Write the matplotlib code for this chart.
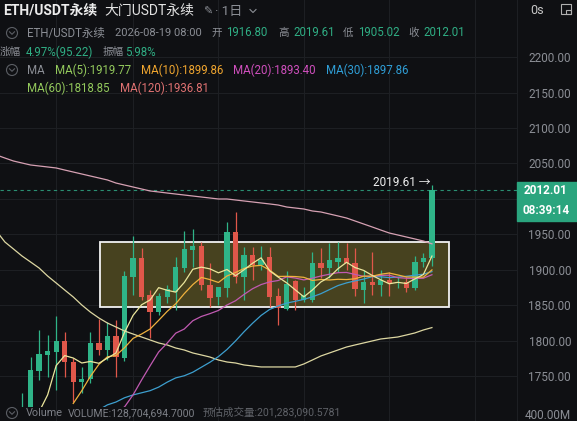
import numpy as np
import pandas as pd
import matplotlib
matplotlib.use("Agg")
from matplotlib import pyplot as plt
from matplotlib.patches import Rectangle, Circle
from matplotlib.lines import Line2D

plt.rcParams['font.family'] = ['Roboto', 'Noto Sans CJK SC', 'DejaVu Sans']

# daily candles, index 0 = leftmost visible one
opens = [1680, 1700, 1757.7, 1780, 1784.5, 1800, 1770, 1742, 1746, 1797,
         1787, 1807, 1776, 1890, 1917, 1865, 1841, 1862, 1869, 1903,
         1928, 1934, 1879, 1862, 1875, 1953.5, 1890, 1921, 1907, 1918,
         1863, 1845, 1884, 1858, 1858, 1910, 1903, 1911, 1917, 1910,
         1872, 1883, 1879, 1886, 1882, 1883, 1875, 1911, 1916.80]
highs = [1727, 1777.5, 1815.5, 1808.5, 1835, 1812.7, 1776, 1763.4, 1812.7, 1831,
         1827, 1829.6, 1898, 1948, 1931, 1872, 1868, 1879, 1918, 1955,
         1958, 1940, 1910, 1876, 1968, 1981, 1932, 1932, 1934, 1932,
         1875, 1899, 1886, 1876, 1925, 1931, 1938, 1939, 1938, 1931,
         1900, 1925, 1900, 1897, 1890, 1890, 1920, 1924, 2019.61]
lows = [1670, 1690, 1745, 1749, 1731, 1749, 1714, 1727, 1741, 1780,
        1773, 1749, 1772, 1865, 1858, 1804, 1837, 1853, 1844, 1897,
        1904, 1872, 1848, 1851, 1862, 1882, 1858, 1886, 1900, 1848,
        1822, 1844, 1844, 1855, 1855, 1889, 1889, 1897, 1900, 1863,
        1854, 1865, 1864, 1864, 1875, 1869, 1872, 1904, 1905.02]
closes = [1700, 1759, 1781.7, 1786, 1800, 1770.4, 1742, 1746.5, 1797, 1787,
          1807, 1777.5, 1891.5, 1917, 1862, 1841, 1864, 1873, 1904, 1930,
          1934, 1879, 1861, 1876, 1953.5, 1890, 1921, 1907, 1914, 1862,
          1846, 1880, 1858, 1865, 1910, 1903, 1914, 1917, 1910, 1873,
          1883, 1879, 1886, 1882, 1883, 1875, 1911, 1917, 2012.01]

# long MAs, index -3 .. 48
ma_idx = list(range(-3, 49))
ma60 = [1954.9, 1939.4, 1929.6, 1919.7, 1911.3, 1902.8, 1891.5, 1881.7, 1871.8, 1862.0,
        1850.7, 1840.8, 1832.4, 1825.3, 1819.7, 1814.1, 1809.8, 1805.6, 1801.4, 1797.2,
        1794.4, 1790.1, 1787.3, 1783.1, 1780.3, 1777.4, 1773.2, 1770.4, 1769.0, 1766.2,
        1764.8, 1763.4, 1763.4, 1763.4, 1763.4, 1763.4, 1767.6, 1773.2, 1778.9, 1783.1,
        1787.3, 1791.5, 1794.4, 1797.2, 1800.0, 1802.8, 1804.2, 1805.6, 1808.4, 1811.3,
        1815.5, 1818.85]
ma120 = [2062.0, 2057.7, 2053.5, 2050.7, 2047.9, 2046.5, 2045.1, 2043.7, 2040.8, 2038.0,
         2035.2, 2032.4, 2029.6, 2026.8, 2022.5, 2019.7, 2016.9, 2014.1, 2011.3, 2009.9,
         2008.4, 2007.0, 2005.6, 2004.2, 2002.8, 2001.4, 2000.0, 2000.0, 1998.6, 1997.2,
         1995.8, 1994.4, 1993.0, 1991.5, 1988.7, 1987.3, 1985.9, 1983.1, 1981.7, 1978.9,
         1976.1, 1973.2, 1969.0, 1964.8, 1960.6, 1956.3, 1952.1, 1949.3, 1946.5, 1943.7,
         1940.8, 1936.81]

# start of the short MAs, before enough candles are on screen to roll them
ma5_head = {2: 1700, 3: 1724}
ma10_head = {6: 1712, 7: 1730, 8: 1750}
ma20_head = {11: 1700, 12: 1707, 13: 1724, 14: 1745, 15: 1765, 16: 1784.5, 17: 1797, 18: 1811}
ma30_head = {9: 1703, 10: 1710, 11: 1714, 12: 1720, 13: 1724, 14: 1727, 15: 1730, 16: 1735,
             17: 1742, 18: 1748, 19: 1751, 20: 1756, 21: 1763, 22: 1770, 23: 1778,
             24: 1788, 25: 1800, 26: 1813, 27: 1825, 28: 1836}

price_ticks = [1750, 1800, 1850, 1900, 1950, 2000, 2050, 2100, 2150, 2200]
box_range = (9.13, 50.0, 1848.3, 1939.9)  # i0, i1, low, high

bg = '#0f1013'
grid_c = '#1d1f23'
up = '#2fb488'
down = '#e0574a'
gray = '#8b8e95'
txt_green = '#2fae84'

W, H = 577, 421
fig = plt.figure(figsize=(W / 100, H / 100), dpi=100, facecolor=bg)

ax = fig.add_axes([0, 14 / H, 517 / W, 407 / H], facecolor=bg)
ax.set_xlim(-2.576, 57.96)
ax.set_ylim(1707.0, 2280.3)

x = np.arange(len(closes))
o = np.array(opens); c = np.array(closes); h = np.array(highs); l = np.array(lows)
cols = np.where(c >= o, up, down)

# box behind the candles
bx0, bx1, by0, by1 = box_range
ax.add_patch(Rectangle((bx0, by0), bx1 - bx0, by1 - by0, facecolor='#47421f',
                       edgecolor='#f2f2f2', lw=1.3, zorder=1))

ax.vlines(x, l, h, colors=cols, lw=0.9, zorder=3)
ax.bar(x, np.maximum(np.abs(c - o), 1.2), bottom=np.minimum(o, c), width=0.62,
       color=cols, zorder=3)

# moving averages
s = pd.Series(closes, dtype=float)
def rolled(n, head):
    m = s.rolling(n).mean()
    for k, v in head.items():
        m[k] = v
    return m

ma5 = rolled(5, ma5_head)
ma10 = rolled(10, ma10_head)
ma20 = rolled(20, ma20_head)
ma30 = rolled(30, ma30_head)

ax.plot(ma_idx, ma120, color='#d6a1b3', lw=0.9, zorder=4)
ax.plot(ma_idx, ma60, color='#ddd7a2', lw=0.9, zorder=4)
ax.plot(x, ma30, color='#3d9fcf', lw=0.9, zorder=4)
ax.plot(x, ma20, color='#c15ab2', lw=0.9, zorder=4)
ax.plot(x, ma10, color='#efb23e', lw=0.9, zorder=4)
ax.plot(x, ma5, color='#ebe69c', lw=0.9, zorder=4)

# last price line and high marker
last = closes[-1]
ax.axhline(last, color='#2a8f72', lw=0.8, ls=(0, (3, 3)), zorder=2)
ax.annotate('2019.61 \u2192', (x[-1], highs[-1]), xytext=(-1, 2), textcoords='offset points',
            ha='right', va='center', color='#f0f0f0', fontsize=8.5, zorder=6)

# axes styling (2000 label sits under the last-price box, so left blank)
ax.set_yticks(price_ticks)
ax.set_yticklabels(['' if t == 2000 else '%.2f' % t for t in price_ticks])
ax.yaxis.tick_right()
ax.tick_params(axis='y', length=0, pad=38.9, labelsize=8.5, labelcolor=gray)
for t in ax.get_yticklabels():
    t.set_horizontalalignment('right')
ax.set_xticks([4, 13, 23, 33, 43, 53])
ax.tick_params(axis='x', length=0, labelbottom=False)
ax.grid(True, color=grid_c, lw=0.8)
ax.set_axisbelow(True)
for sp in ['top', 'left', 'bottom']:
    ax.spines[sp].set_visible(False)
ax.spines['right'].set_color(grid_c)

# volume pane (only the label row shows)
vax = fig.add_axes([0, 0, 517 / W, 14 / H], facecolor=bg)
vax.set_xlim(ax.get_xlim())
vax.set_ylim(0, 800e6)
vax.set_yticks([400e6])
vax.set_yticklabels(['400.00M'])
vax.yaxis.tick_right()
vax.tick_params(axis='y', length=0, pad=38.9, labelsize=8.5, labelcolor=gray)
for t in vax.get_yticklabels():
    t.set_horizontalalignment('right')
vax.set_xticks([4, 13, 23, 33, 43, 53])
vax.tick_params(axis='x', length=0, labelbottom=False)
vax.grid(True, axis='x', color=grid_c, lw=0.8)
for sp in ['top', 'left', 'bottom']:
    vax.spines[sp].set_visible(False)
vax.spines['right'].set_color(grid_c)

# price label boxes on the right
fig.canvas.draw()
yp = ax.transData.transform((0, last))[1]  # display px from bottom
fig.add_artist(Rectangle((517, yp - 8.5), 60, 17, transform=None, color='#2aa57e', zorder=5))
fig.add_artist(Rectangle((517, yp - 31), 60, 22, transform=None, color='#2aa57e', zorder=5))
fig.text(546 / W, yp / H, '%.2f' % last, color='white', fontsize=8.5, fontweight='bold',
         ha='center', va='center', zorder=6)
fig.text(546 / W, (yp - 20) / H, '08:39:14', color='white', fontsize=8.5, fontweight='bold',
         ha='center', va='center', zorder=6)

# header
def label(px, py, s, color=gray, size=8.3, weight='normal'):
    fig.text(px / W, 1 - py / H, s, color=color, fontsize=size, fontweight=weight,
             ha='left', va='center', zorder=7)

def chevron(px, py):
    fig.add_artist(Circle((px, H - py), 5.5, transform=None, fill=False,
                          ec='#5b5e64', lw=0.8, zorder=7))
    fig.add_artist(Line2D([px - 2.5, px, px + 2.5], [H - py + 1.2, H - py - 1.3, H - py + 1.2],
                          transform=None, color='#5b5e64', lw=0.8, zorder=7))

label(3, 11, 'ETH/USDT永续', '#ececec', 10, 'bold')
label(104, 11, '大门USDT永续', '#e2e2e2', 10)
label(203, 12, '\u270e', gray, 8, 'normal')
label(215, 11, '· 1日', gray, 9.5)
fig.add_artist(Line2D([250, 253, 256], [H - 9.5, H - 12.5, H - 9.5], transform=None,
                      color=gray, lw=0.8))
label(530, 11, '0s', '#c8c8c8', 9)
fig.add_artist(Rectangle((561, H - 14), 10, 10, transform=None, fill=False, ec='#b0b0b0', lw=0.8))
fig.add_artist(Rectangle((566, H - 14), 5, 4, transform=None, fill=False, ec='#b0b0b0', lw=0.8))

chevron(12, 33)
label(27, 33, 'ETH/USDT永续')
label(115, 33, '2026-08-19 08:00', size=8.0)
label(211, 33, '开', size=7.6); label(226, 33, '1916.80', txt_green)
label(278, 33, '高', size=7.6); label(293, 33, '2019.61', txt_green)
label(343, 33, '低', size=7.6); label(358, 33, '1905.02', txt_green)
label(408, 33, '收', size=7.6); label(423, 33, '2012.01', txt_green)

label(0, 52, '涨幅', size=7.6); label(26, 52, '4.97%(95.22)', txt_green)
label(103, 52, '振幅', size=7.6); label(125, 52, '5.98%', txt_green)

chevron(12, 70)
label(27, 70, 'MA')
label(55, 70, 'MA(5):1919.77', '#93c95c')
label(141, 70, 'MA(10):1899.86', '#efa52f')
label(233, 70, 'MA(20):1893.40', '#cf4fbd')
label(326, 70, 'MA(30):1897.86', '#2f9ed6')
label(27, 88, 'MA(60):1818.85', '#93c95c')
label(120, 88, 'MA(120):1936.81', '#e07272')

chevron(12, 413)
label(26, 413, 'Volume', '#7d8087', 7.8)
label(68, 413, 'VOLUME:128,704,694.7000', '#7d8087', 7.6)
label(203, 413, '预估成交量:201,283,090.5781', '#5f6268', 7.6)

fig.savefig('out.png', dpi=100, facecolor=bg)
